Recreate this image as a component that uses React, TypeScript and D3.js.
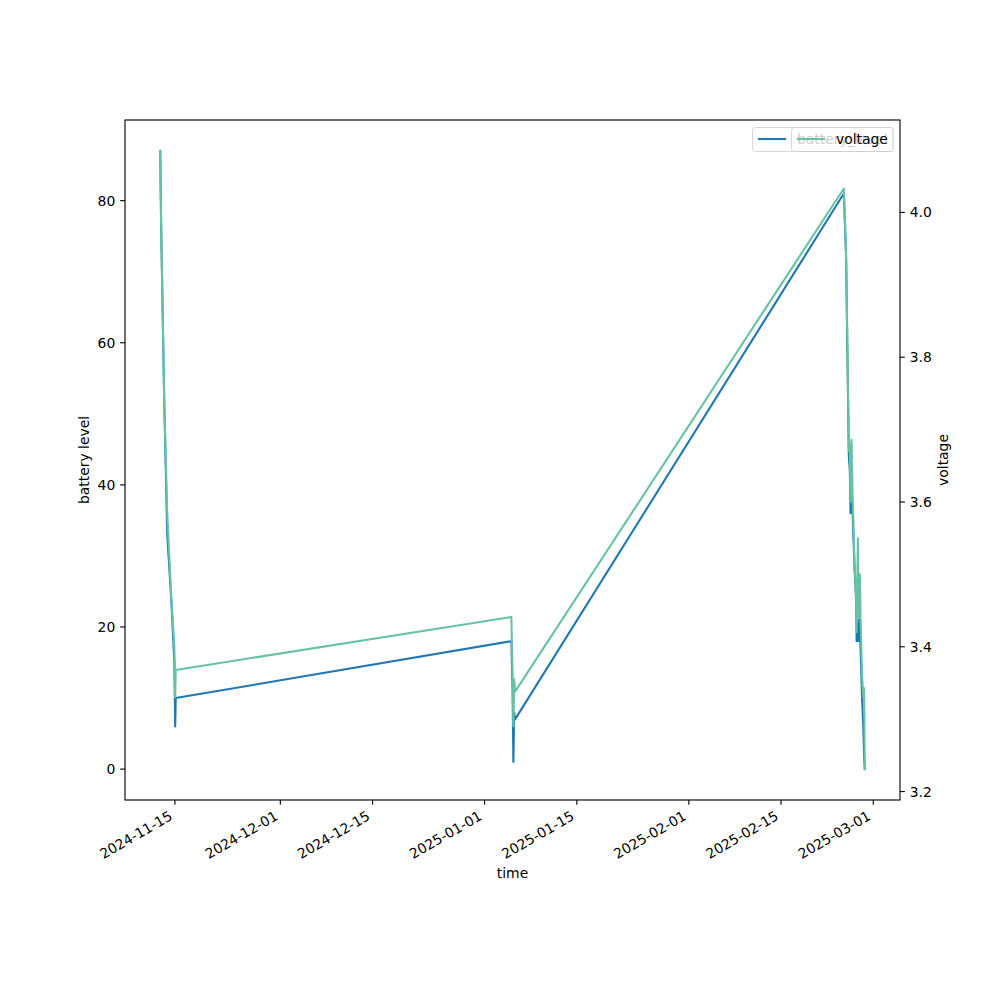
import React from "react";
import * as d3 from "d3";

// readings (time, battery_level, voltage)
const times = [
  "2024-11-12T18:30", "2024-11-12T22:00", "2024-11-13T09:00", "2024-11-13T20:00",
  "2024-11-14T10:30", "2024-11-14T22:00", "2024-11-15T01:00", "2024-11-15T03:00",
  "2025-01-05T01:40", "2025-01-05T06:00", "2025-01-05T09:00", "2025-01-05T12:00",
  "2025-01-05T15:00", "2025-02-24T12:45", "2025-02-24T21:00", "2025-02-25T02:30",
  "2025-02-25T07:00", "2025-02-25T10:30", "2025-02-25T13:10", "2025-02-25T16:50",
  "2025-02-25T20:40", "2025-02-26T04:00", "2025-02-26T09:20", "2025-02-26T11:20",
  "2025-02-26T16:00", "2025-02-26T18:30", "2025-02-26T23:20", "2025-02-27T01:40",
  "2025-02-27T07:10", "2025-02-27T11:30", "2025-02-27T14:30", "2025-02-27T17:00",
];
const batteryLevel = [
  87, 76, 52, 33, 24, 15, 6, 10,
  18, 11, 1, 8, 7, 81, 72, 56,
  44, 42, 36, 38, 36, 28, 24, 18,
  21, 18, 21, 17, 10, 6, 2, 0,
];
const voltage = [
  4.085, 3.98, 3.74, 3.585, 3.47, 3.4, 3.33, 3.368,
  3.441, 3.36, 3.29, 3.355, 3.338, 4.033, 3.94, 3.8,
  3.67, 3.68, 3.6, 3.686, 3.61, 3.51, 3.47, 3.42,
  3.55, 3.44, 3.5, 3.44, 3.36, 3.33, 3.343, 3.231,
];

const xTicks = [
  "2024-11-15", "2024-12-01", "2024-12-15", "2025-01-01",
  "2025-01-15", "2025-02-01", "2025-02-15", "2025-03-01",
];
const batteryTicks = [0, 20, 40, 60, 80];
const voltageTicks = [3.2, 3.4, 3.6, 3.8, 4.0];

const W = 1000;
const H = 1000;
const left = 125;
const right = 900;
const top = 120;
const bottom = 800;
const font = "DejaVu Sans";
const fs = 13.9;
const blue = "#1f77b4";
const green = "#66c2a5";

const parseTime = d3.utcParse("%Y-%m-%dT%H:%M");
const parseDay = d3.utcParse("%Y-%m-%d");

// matplotlib style 5% margins
const pad = (ext: [number, number]) => {
  const r = ext[1] - ext[0];
  return [ext[0] - r * 0.05, ext[1] + r * 0.05];
};

const App = () => {
  const data = times.map((t, i) => ({
    t: parseTime(t) as Date,
    b: batteryLevel[i],
    v: voltage[i],
  }));

  const tExt = d3.extent(data, (d) => +d.t) as [number, number];
  const tDom = pad(tExt);
  const x = d3
    .scaleUtc()
    .domain([new Date(tDom[0]), new Date(tDom[1])])
    .range([left, right]);
  const yB = d3
    .scaleLinear()
    .domain(pad(d3.extent(batteryLevel) as [number, number]))
    .range([bottom, top]);
  const yV = d3
    .scaleLinear()
    .domain(pad(d3.extent(voltage) as [number, number]))
    .range([bottom, top]);

  const lineB = d3
    .line<any>()
    .x((d) => x(d.t))
    .y((d) => yB(d.b));
  const lineV = d3
    .line<any>()
    .x((d) => x(d.t))
    .y((d) => yV(d.v));

  const tickLen = 4.86;
  const tickPad = 4.86;
  const ascent = 0.76 * fs;
  const descent = 0.22 * fs;

  return (
    <svg
      width={W}
      height={H}
      style={{ position: "absolute", left: 0, top: 0, background: "white" }}
      fontFamily={font}
      fontSize={fs}
    >
      <rect x={0} y={0} width={W} height={H} fill="white" />

      {/* battery level */}
      <path
        d={lineB(data) || ""}
        fill="none"
        stroke={blue}
        strokeWidth={2.08}
        strokeLinejoin="round"
        strokeLinecap="square"
      />

      {/* legend of the left axis */}
      <g>
        <rect
          x={752.5}
          y={127.5}
          width={140.5}
          height={24}
          rx={2.8}
          fill="white"
          fillOpacity={0.8}
          stroke="#cccccc"
          strokeOpacity={0.8}
          strokeWidth={1}
        />
        <line x1={758} x2={786} y1={139} y2={139} stroke={blue} strokeWidth={2.08} />
        <text x={797} y={144}>battery_level</text>
      </g>

      {/* voltage */}
      <path
        d={lineV(data) || ""}
        fill="none"
        stroke={green}
        strokeWidth={2.08}
        strokeLinejoin="round"
        strokeLinecap="square"
      />

      {/* legend of the right axis */}
      <g>
        <rect
          x={791.5}
          y={127.5}
          width={101.5}
          height={24}
          rx={2.8}
          fill="white"
          fillOpacity={0.8}
          stroke="#cccccc"
          strokeOpacity={0.8}
          strokeWidth={1}
        />
        <line x1={797} x2={825} y1={139} y2={139} stroke={green} strokeWidth={2.08} />
        <text x={836} y={144}>voltage</text>
      </g>

      {/* spines */}
      <rect
        x={left}
        y={top}
        width={right - left}
        height={bottom - top}
        fill="none"
        stroke="black"
        strokeWidth={1.11}
      />

      {/* x axis */}
      {xTicks.map((s) => {
        const px = x(parseDay(s) as Date);
        const ax = px - 0.5 * descent;
        const ay = bottom + tickLen + tickPad + 0.866 * ascent;
        return (
          <g key={s}>
            <line x1={px} x2={px} y1={bottom} y2={bottom + tickLen} stroke="black" strokeWidth={1.11} />
            <text
              x={ax}
              y={ay}
              textAnchor="end"
              transform={`rotate(-30, ${ax}, ${ay})`}
            >
              {s}
            </text>
          </g>
        );
      })}
      <text x={(left + right) / 2} y={878} textAnchor="middle">
        time
      </text>

      {/* left axis */}
      {batteryTicks.map((v) => (
        <g key={v}>
          <line x1={left - tickLen} x2={left} y1={yB(v)} y2={yB(v)} stroke="black" strokeWidth={1.11} />
          <text x={left - tickLen - tickPad} y={yB(v)} dy="0.36em" textAnchor="end">
            {v}
          </text>
        </g>
      ))}
      <text
        x={89}
        y={(top + bottom) / 2}
        textAnchor="middle"
        transform={`rotate(-90, 89, ${(top + bottom) / 2})`}
      >
        battery level
      </text>

      {/* right axis */}
      {voltageTicks.map((v) => (
        <g key={v}>
          <line x1={right} x2={right + tickLen} y1={yV(v)} y2={yV(v)} stroke="black" strokeWidth={1.11} />
          <text x={right + tickLen + tickPad} y={yV(v)} dy="0.36em" textAnchor="start">
            {v.toFixed(1)}
          </text>
        </g>
      ))}
      <text
        x={948}
        y={(top + bottom) / 2}
        textAnchor="middle"
        transform={`rotate(-90, 948, ${(top + bottom) / 2})`}
      >
        voltage
      </text>
    </svg>
  );
};

export default App;
